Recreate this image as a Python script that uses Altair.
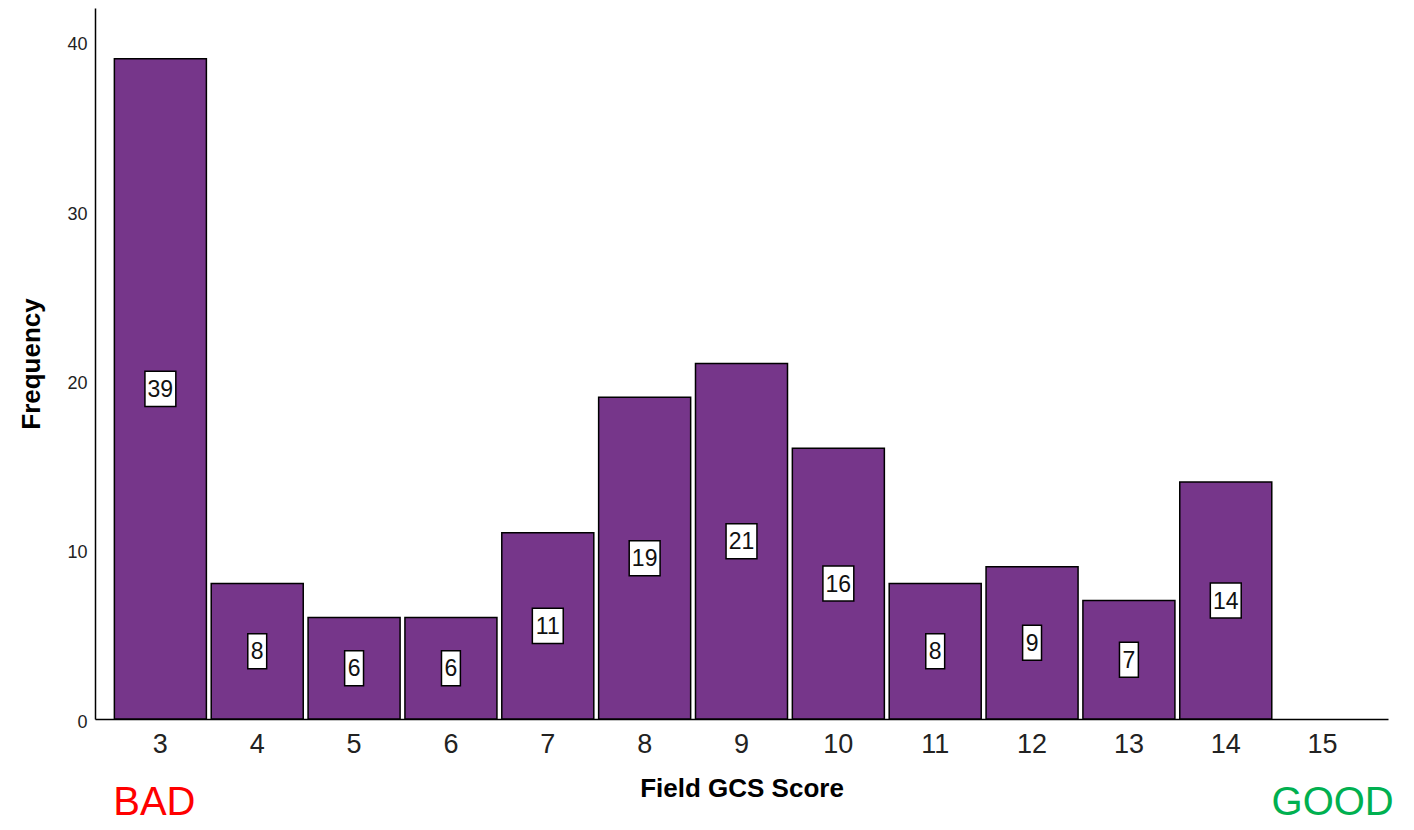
import altair as alt
import pandas as pd

scores = ["3", "4", "5", "6", "7", "8", "9", "10", "11", "12", "13", "14", "15"]
freqs = [39, 8, 6, 6, 11, 19, 21, 16, 8, 9, 7, 14, 0]

notes_score = ["3", "15"]
notes_text = ["BAD", "GOOD"]
notes_color = ["#FF0000", "#00B050"]
notes_dx = [-6, 10]

W, H = 1293, 711

df = pd.DataFrame({"score": scores, "freq": freqs})
df["digits"] = df["freq"].astype(str).str.len().astype(str)
notes = pd.DataFrame({"score": notes_score, "label": notes_text, "col": notes_color})

FONT = "Liberation Sans"

x = alt.X(
    "score:O",
    sort=scores,
    scale=alt.Scale(domain=scores, paddingInner=0.05, paddingOuter=0.2),
    axis=alt.Axis(
        title="Field GCS Score",
        labelAngle=0,
        ticks=False,
        tickSize=0,
        labelFontSize=27,
        labelFont=FONT,
        labelColor="#222222",
        labelPadding=12,
        domainColor="#000000",
        domainWidth=1.5,
        titleFont=FONT,
        titleFontSize=26,
        titleFontWeight="bold",
        titleColor="#000000",
        titlePadding=18,
    ),
)

yscale = alt.Scale(domain=[0, 42], nice=False)

base = alt.Chart(df).transform_filter("datum.freq > 0")

bars = base.mark_bar(color="#76368A", stroke="#000000", strokeWidth=1.5).encode(
    x=x,
    y=alt.Y(
        "freq:Q",
        scale=yscale,
        axis=alt.Axis(
            title="Frequency",
            values=[0, 10, 20, 30, 40],
            grid=False,
            ticks=False,
            tickSize=0,
            labelFontSize=18,
            labelFont=FONT,
            labelColor="#222222",
            labelPadding=8,
            labelOffset=3,
            domainColor="#000000",
            domainWidth=1.5,
            titleFont=FONT,
            titleFontSize=26,
            titleFontWeight="bold",
            titleColor="#000000",
            titlePadding=22,
        ),
    ),
)

box2 = "M-1.03,-1.17L1.03,-1.17L1.03,1.17L-1.03,1.17Z"
box1 = "M-0.63,-1.17L0.63,-1.17L0.63,1.17L-0.63,1.17Z"

boxes = base.transform_calculate(mid="datum.freq / 2").mark_point(
    filled=True, fill="white", stroke="#000000", strokeWidth=1.5, opacity=1, size=900
).encode(
    x=alt.X("score:O", sort=scores),
    y=alt.Y("mid:Q", scale=yscale),
    shape=alt.Shape("digits:N", scale=alt.Scale(domain=["1", "2"], range=[box1, box2]), legend=None),
)

texts = base.transform_calculate(mid="datum.freq / 2").mark_text(
    fontSize=23, font=FONT, color="#111111", baseline="middle", dy=1
).encode(
    x=alt.X("score:O", sort=scores),
    y=alt.Y("mid:Q", scale=yscale),
    text="freq:Q",
)

note_layers = []
for i in range(len(notes_text)):
    note_layers.append(
        alt.Chart(notes.iloc[[i]]).mark_text(
            fontSize=40, font=FONT, baseline="alphabetic", align="center", dx=notes_dx[i]
        ).encode(
            x=alt.X("score:O", sort=scores),
            y=alt.value(H + 96),
            text="label:N",
            color=alt.Color("col:N", scale=None),
        )
    )

chart = (
    alt.layer(bars, boxes, texts, *note_layers)
    .properties(
        width=W,
        height=H,
        padding={"left": 87, "top": 0, "right": 18, "bottom": 103},
        autosize=alt.AutoSizeParams(type="none"),
        background="white",
    )
    .configure_view(stroke=None)
)

chart.save("out.html", embed_options={"renderer": "svg", "actions": False})
